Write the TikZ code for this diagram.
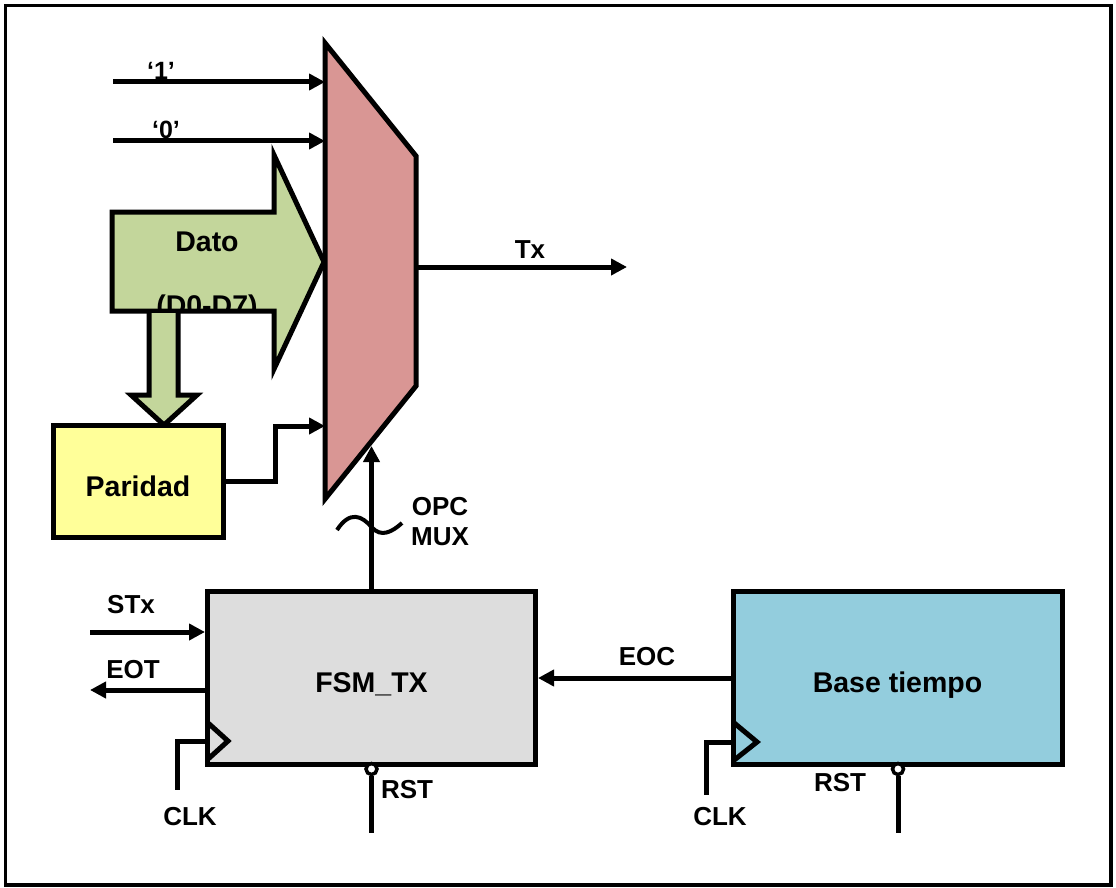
\documentclass[tikz,border=0pt]{standalone}
\usepackage{fontspec}
\setmainfont{Liberation Sans}
\usetikzlibrary{arrows.meta,calc}
\definecolor{muxc}{HTML}{D99694}
\definecolor{datc}{HTML}{C3D69B}
\definecolor{parc}{HTML}{FFFF99}
\definecolor{fsmc}{HTML}{DDDDDD}
\definecolor{basc}{HTML}{93CDDD}
\begin{document}
\begin{tikzpicture}[x=1pt,y=-1pt,line join=miter,
  blk/.style={draw, line width=5pt, inner sep=0pt, text height=36pt, text depth=6pt,
    font=\fontsize{28.5}{30}\selectfont\bfseries},
  lbl/.style={inner sep=0pt, font=\fontsize{26}{28}\selectfont\bfseries},
  qlbl/.style={inner sep=0pt, font=\fontsize{25}{27}\selectfont\bfseries},
  wire/.style={line width=5pt},
  conn/.style={line width=5pt, -{Triangle[length=16pt,width=16pt]}},
  clk/.style={line width=5pt},
  bub/.style={circle, draw, fill=white, line width=3.5pt, minimum size=11pt, inner sep=0pt}]
\useasboundingbox (0,0) rectangle (1116,888);
\draw[line width=3.5pt] (5.5,5.5) rectangle (1111,885);

% multiplexer
\coordinate (m1) at (325,43);
\coordinate (m2) at (416,156);
\coordinate (m3) at (416,386);
\coordinate (m4) at (325,499);

% Dato block arrow
\path[fill=datc] (112,212) -- (274,212) -- (274,155) -- (324,262) -- (274,369) -- (274,311) -- (112,311) -- cycle;
\begin{scope}
  \clip (112,212) -- (274,212) -- (274,155) -- (324,262) -- (274,369) -- (274,311) -- (112,311) -- cycle;
  \node[lbl, font=\fontsize{28.5}{30}\selectfont\bfseries, anchor=base] (dd) at (207,315.5) {(D0-D7)};
\end{scope}
\draw[line width=5pt] (112,212) -- (274,212) -- (274,155) -- (324,262) -- (274,369) -- (274,311) -- (112,311) -- cycle;
\node[lbl, font=\fontsize{28.5}{30}\selectfont\bfseries] (dato) at (207,242) {Dato};

% down arrow to parity
\draw[line width=5pt, fill=datc] (149,313) -- (149,395) -- (131,395) -- (164,425) -- (197,395) -- (178,395) -- (178,313);

% mux body
\draw[line width=5pt, fill=muxc] (m1) -- (m2) -- (m3) -- (m4) -- cycle;

% inputs '1' and '0'
\coordinate (i1) at (113,82);
\coordinate (i0) at (113,141);
\draw[conn] (i1) -- (i1 -| m1);
\draw[conn] (i0) -- (i0 -| m1);
\node[qlbl] (l1) at (161,71) {‘1’};
\node[qlbl] (l0) at (166,130) {‘0’};

% parity
\node[blk, fill=parc, minimum width=170pt, minimum height=112pt] (par) at (138,481) {Paridad};
\coordinate (pin) at (325,426);
\draw[conn] (par.east) -- (275,481) |- (pin);

% Tx output
\coordinate (txs) at (416,267);
\coordinate (txo) at (627,267);
\draw[conn] (txs) -- (txo);
\node[lbl] (tx) at (530,250) {Tx};

% FSM
\node[blk, fill=fsmc, minimum width=328pt, minimum height=173pt] (fsm) at (371.5,677.5) {FSM\_TX};
\coordinate (sel) at (371.5,446);
\draw[conn] (fsm.north) -- (sel);
\draw[line width=4pt] (337,530) .. controls (350,510) and (362,516) .. (371.5,527) .. controls (381,538) and (392,532) .. (402,523);
\node[lbl] (opc) at (440,507) {OPC};
\node[lbl] (mux) at (440,537) {MUX};

% STx / EOT
\coordinate (stx) at (90,632);
\coordinate (eot) at (90,690);
\draw[conn] (stx) -- (stx -| fsm.west);
\draw[conn] (eot -| fsm.west) -- (eot);
\node[lbl] (lstx) at (131,605) {STx};
\node[lbl] (leot) at (133,670) {EOT};

% FSM clock
\draw[clk] (207,722) -- (228,741) -- (207,760);
\coordinate (c1) at (177,790);
\draw[wire] (207,741) -| (c1);
\node[lbl] (lclk1) at (190,817) {CLK};

% FSM reset
\node[bub] (r1) at (371.5,769) {};
\coordinate (r1e) at (371.5,833);
\draw[wire] (r1.south) -- (r1e);
\node[lbl] (lrst1) at (407,790) {RST};

% Base tiempo
\node[blk, fill=basc, minimum width=329pt, minimum height=173pt] (bt) at (897.5,677.5) {Base tiempo};
\coordinate (eoc) at (733,678);
\draw[conn] (eoc) -- (eoc -| fsm.east);
\node[lbl] (leoc) at (647,657) {EOC};

% Base clock
\draw[clk] (733,722) -- (757,742) -- (733,761);
\coordinate (c2) at (706,795);
\draw[wire] (733,742) -| (c2);
\node[lbl] (lclk2) at (720,817) {CLK};

% Base reset
\node[bub] (r2) at (898,769) {};
\coordinate (r2e) at (898,833);
\draw[wire] (r2.south) -- (r2e);
\node[lbl] (lrst2) at (840,783) {RST};
\end{tikzpicture}
\end{document}
